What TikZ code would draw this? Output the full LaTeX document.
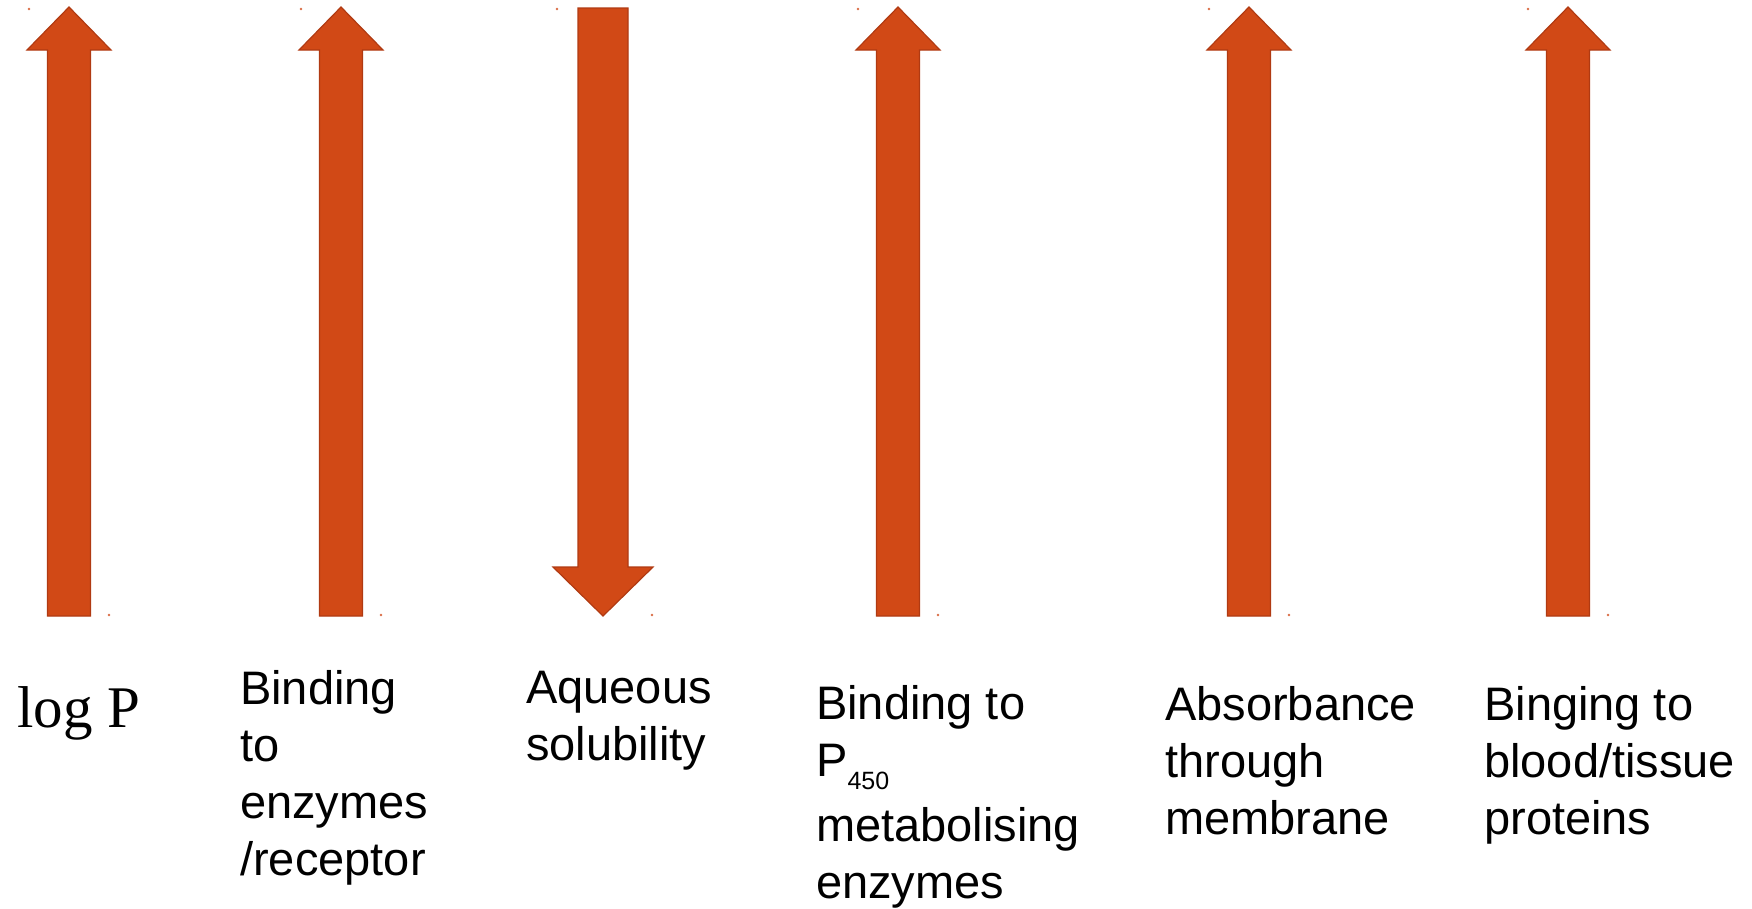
\documentclass[tikz,border=0pt]{standalone}
\usepackage{fontspec}
\setmainfont{Liberation Sans}
\newfontfamily\serifface{Liberation Serif}
\definecolor{arrowred}{RGB}{209,73,22}
\definecolor{arrowedge}{RGB}{176,58,18}
\tikzset{
  bigarrow/.style={fill=arrowred,draw=arrowedge,line width=1.2pt,line join=miter},
  corner/.style={fill=arrowred!80},
  propertext/.style={anchor=base west,inner sep=0pt,align=left,font=\fontsize{47}{57}\selectfont},
}
\begin{document}
\begin{tikzpicture}[x=1pt,y=-1pt]
        \useasboundingbox (0,0) rectangle (1752,908);
        %% rising arrows
        \foreach \c in {69,341,898,1249,1568} {
          \draw[bigarrow] ({\c-21.5},616) -- ({\c+21.5},616) -- ({\c+21.5},50) -- ({\c+42},50)
            -- (\c,7) -- ({\c-42},50) -- ({\c-21.5},50) -- cycle;
          \fill[corner] ({\c-40},9) circle (1.3);
          \fill[corner] ({\c+40},615) circle (1.3);
        }
        %% falling arrow
        \draw[bigarrow] (578,8) -- (628,8) -- (628,567) -- (653,567) -- (603,616)
          -- (553,567) -- (578,567) -- cycle;
        \fill[corner] (557,9) circle (1.3);
        \fill[corner] (652,615) circle (1.3);
        %% texts (anchored at the baseline of the last line)
        \node[propertext] (logp) at (17,727) {\serifface\fontsize{59}{59}\selectfont log P};
        \node[propertext] (bind) at (240,875) {Binding\\to\\enzymes\\/receptor};
        \node[propertext] (aqsol) at (526,760) {Aqueous\\solubility};
        \node[propertext] (pfour) at (816,898) {Binding to\\[0pt]P\raisebox{-13pt}{\fontsize{25}{25}\selectfont 450}\\[8pt]metabolising\\enzymes};
        \node[propertext] (absorb) at (1165,834) {Absorbance\\through\\membrane};
        \node[propertext] (blood) at (1484,834) {Binging to\\blood/tissue\\proteins};
\end{tikzpicture}
\end{document}
